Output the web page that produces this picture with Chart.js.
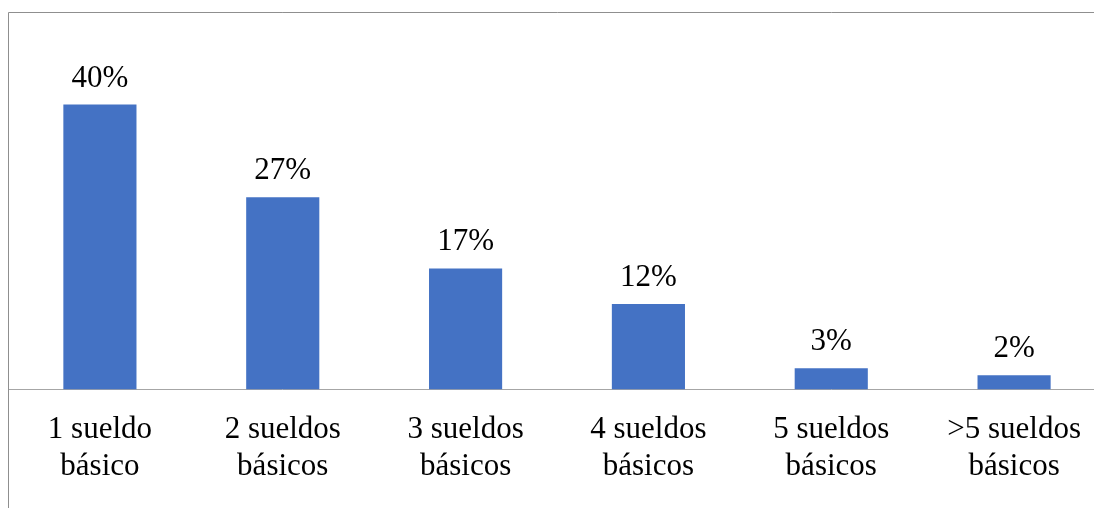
<!DOCTYPE html>
<html>
<head>
<meta charset="utf-8">
<script src="https://cdn.jsdelivr.net/npm/chart.js@4.4.1/dist/chart.umd.min.js"></script>
<style>
  html, body { margin: 0; padding: 0; background: #fff; overflow: hidden; }
  #wrap { position: absolute; left: 0; top: 0; width: 1094px; height: 508px; overflow: hidden; }
  #chart { display: block; }
</style>
</head>
<body>
<div id="wrap"><canvas id="chart" width="1106" height="508"></canvas></div>
<script>
// categorías y porcentajes
const categorias = [
  ['1 sueldo', 'básico'],
  ['2 sueldos', 'básicos'],
  ['3 sueldos', 'básicos'],
  ['4 sueldos', 'básicos'],
  ['5 sueldos', 'básicos'],
  ['>5 sueldos', 'básicos']
];
const porcentajes = [40, 27, 17, 12, 3, 2];

const fuente = { family: '"Liberation Serif", "Times New Roman", serif', size: 31 };

// marco del gráfico (línea superior e izquierda)
const marco = {
  id: 'marco',
  afterDraw(chart) {
    const ctx = chart.ctx;
    ctx.save();
    ctx.strokeStyle = '#8f8f8f';
    ctx.lineWidth = 1;
    ctx.beginPath();
    ctx.moveTo(8.5, chart.height);
    ctx.lineTo(8.5, 12.5);
    ctx.lineTo(chart.width, 12.5);
    ctx.stroke();
    ctx.restore();
  }
};

// etiquetas de valor encima de cada barra
const etiquetas = {
  id: 'etiquetas',
  afterDatasetsDraw(chart) {
    const ctx = chart.ctx;
    const meta = chart.getDatasetMeta(0);
    ctx.save();
    ctx.font = fuente.size + 'px ' + fuente.family;
    ctx.fillStyle = '#000';
    ctx.textAlign = 'center';
    ctx.textBaseline = 'alphabetic';
    meta.data.forEach((bar, i) => {
      ctx.fillText(porcentajes[i] + '%', bar.x, bar.y - 18);
    });
    ctx.restore();
  }
};

new Chart(document.getElementById('chart'), {
  type: 'bar',
  data: {
    labels: categorias,
    datasets: [{
      data: porcentajes,
      backgroundColor: '#4472C4',
      barPercentage: 0.4,
      categoryPercentage: 1
    }]
  },
  options: {
    responsive: false,
    animation: false,
    layout: { padding: { left: 8.5, right: 0.5, top: 33.25, bottom: 0 } },
    plugins: { legend: { display: false }, tooltip: { enabled: false } },
    scales: {
      x: {
        grid: { display: false },
        border: { display: true, color: '#a6a6a6', width: 1 },
        ticks: {
          color: '#000',
          font: { family: fuente.family, size: fuente.size, lineHeight: 1.2 },
          padding: 14,
          maxRotation: 0,
          autoSkip: false
        },
        afterFit(scale) { scale.height = 118.5; }
      },
      y: {
        display: false,
        min: 0,
        max: 50
      }
    }
  },
  plugins: [marco, etiquetas]
});
</script>
</body>
</html>
